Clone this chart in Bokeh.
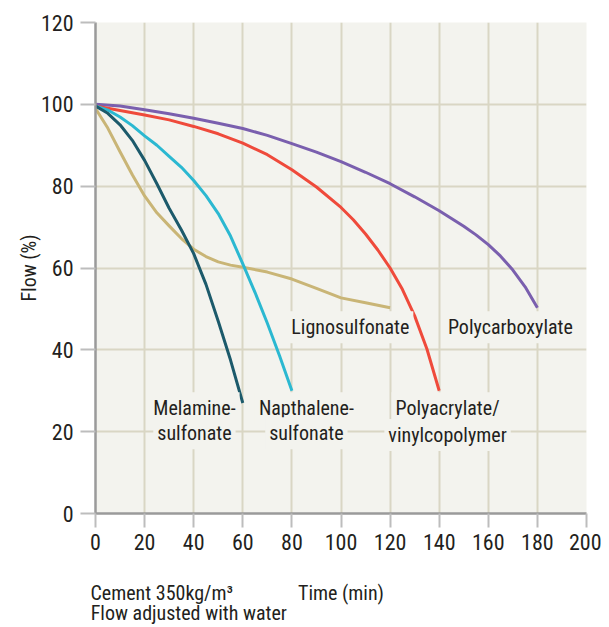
from bokeh.plotting import figure
from bokeh.models import Label, FixedTicker, Range1d, LinearAxis
from bokeh.embed import file_html
from bokeh.resources import INLINE

FONT = "Roboto Condensed"
TXT = "#231f20"
BG = "#f3f3ee"
GRID = "#d9d6c4"

# ---- data (time in minutes, flow in %) ----
poly_carb_t = [0, 10, 20, 30, 40, 50, 60, 70, 80, 90, 100, 110, 120, 130, 140, 150, 155, 160, 165, 170, 175, 180]
poly_carb_f = [100, 99.6, 98.7, 97.7, 96.6, 95.4, 94.1, 92.4, 90.4, 88.3, 86.0, 83.4, 80.6, 77.4, 74.0, 70.2, 68.1, 65.7, 62.9, 59.5, 55.4, 50.3]

poly_acr_t = [0, 10, 20, 30, 40, 50, 60, 70, 80, 90, 100, 105, 110, 115, 120, 125, 130, 135, 140]
poly_acr_f = [99.6, 98.5, 97.4, 96.2, 94.6, 92.8, 90.5, 87.7, 84.0, 79.8, 74.8, 71.8, 68.3, 64.4, 60.0, 54.8, 48.3, 40.2, 30.0]

napth_t = [0, 5, 10, 15, 20, 25, 30, 35, 40, 45, 50, 55, 60, 65, 70, 75, 80]
napth_f = [99.6, 98.6, 96.9, 94.8, 92.3, 90.0, 87.3, 84.6, 81.4, 77.7, 73.3, 67.8, 61.0, 54.0, 46.5, 38.5, 30.0]

melam_t = [0, 5, 10, 15, 20, 25, 30, 35, 40, 45, 50, 55, 60]
melam_f = [99.6, 97.8, 95.0, 91.2, 86.3, 80.6, 74.6, 69.3, 63.5, 56.0, 47.0, 37.5, 27.0]

ligno_t = [0, 5, 10, 15, 20, 25, 30, 35, 40, 45, 50, 55, 60, 70, 80, 90, 100, 110, 120]
ligno_f = [99.0, 94.2, 88.4, 82.8, 77.6, 73.5, 70.3, 67.2, 64.6, 62.8, 61.5, 60.7, 60.2, 59.0, 57.3, 55.0, 52.7, 51.5, 50.3]

series_names = ["Lignosulfonate", "Polycarboxylate", "Polyacrylate/vinylcopolymer",
                "Napthalenesulfonate", "Melaminesulfonate"]
series_t = [ligno_t, poly_carb_t, poly_acr_t, napth_t, melam_t]
series_f = [ligno_f, poly_carb_f, poly_acr_f, napth_f, melam_f]
series_colors = ["#c9b576", "#7a5fae", "#ef4a3b", "#2bb8d1", "#1c5a6b"]

label_lines = [["Melamine-", "sulfonate"], ["Napthalene-", "sulfonate"],
               ["Polyacrylate/", "vinylcopolymer"], ["Lignosulfonate"], ["Polycarboxylate"]]
label_x = [40.3, 85.9, 143.4, 103.8, 169.0]
label_y = [[25.7, 19.6], [25.7, 19.6], [25.7, 19.2], [45.5], [45.5]]

x_ticks = list(range(0, 201, 20))
y_ticks = list(range(0, 121, 20))

x_title = "Time (min)"
y_title = "Flow (%)"
note_1 = "Cement 350kg/m³"
note_2 = "Flow adjusted with water"
# positions (in x-data units) of the footnote texts' centres
note_1_x, x_title_x, note_2_x = 27, 100, 38

p = figure(frame_width=491, frame_height=491, output_backend="svg", toolbar_location=None,
           x_range=Range1d(0, 200), y_range=Range1d(0, 120),
           min_border_left=95, min_border_right=15, min_border_top=22, min_border_bottom=100)
p.background_fill_color = BG
p.border_fill_color = "white"
p.outline_line_color = None

xa = p.xaxis[0]
ya = p.yaxis[0]
for ax, ticks in ((xa, x_ticks), (ya, y_ticks)):
    ax.ticker = FixedTicker(ticks=ticks)
    ax.axis_line_color = "#9a9a9a"
    ax.axis_line_width = 2.5
    ax.major_tick_line_color = "#bdbdbd"
    ax.major_tick_line_width = 2
    ax.major_tick_in = 0
    ax.major_tick_out = 15
    ax.minor_tick_line_color = None
    ax.major_label_text_font = FONT
    ax.major_label_text_font_size = "22px"
    ax.major_label_text_color = TXT
    ax.axis_label_text_font = FONT
    ax.axis_label_text_font_size = "20px"
    ax.axis_label_text_font_style = "normal"
    ax.axis_label_text_color = TXT

xa.major_tick_out = 14
xa.major_label_standoff = 6
ya.major_label_standoff = 7
ya.axis_label = y_title
ya.axis_label_standoff = -3

p.grid.grid_line_color = GRID
p.grid.grid_line_width = 2
p.xgrid.ticker = FixedTicker(ticks=x_ticks)
p.ygrid.ticker = FixedTicker(ticks=y_ticks)

for t, f, c in zip(series_t, series_f, series_colors):
    p.line(t, f, line_color=c, line_width=3, line_join="round")

for lines, xc, ys in zip(label_lines, label_x, label_y):
    for txt, yc in zip(lines, ys):
        p.add_layout(Label(x=xc, y=yc, text=txt, text_align="center", text_baseline="middle",
                           text_font=FONT, text_font_size="20px", text_color=TXT,
                           background_fill_color=BG, background_fill_alpha=1.0,
                           padding=4))

# footnote lines below the axis: axes without lines/ticks whose labels carry the texts
def text_axis(ticks, texts, standoff):
    ax = LinearAxis(ticker=FixedTicker(ticks=ticks),
                    major_label_overrides={k: v for k, v in zip(ticks, texts)},
                    axis_line_color=None, major_tick_line_color=None, minor_tick_line_color=None,
                    major_tick_in=0, major_tick_out=0,
                    major_label_standoff=standoff, major_label_text_font=FONT,
                    major_label_text_font_size="20px", major_label_text_color=TXT)
    p.add_layout(ax, "below")
    return ax

text_axis([note_1_x, x_title_x], [note_1, x_title], 28)
text_axis([note_2_x], [note_2], -7)

open("out.html", "w").write(file_html(p, INLINE))
